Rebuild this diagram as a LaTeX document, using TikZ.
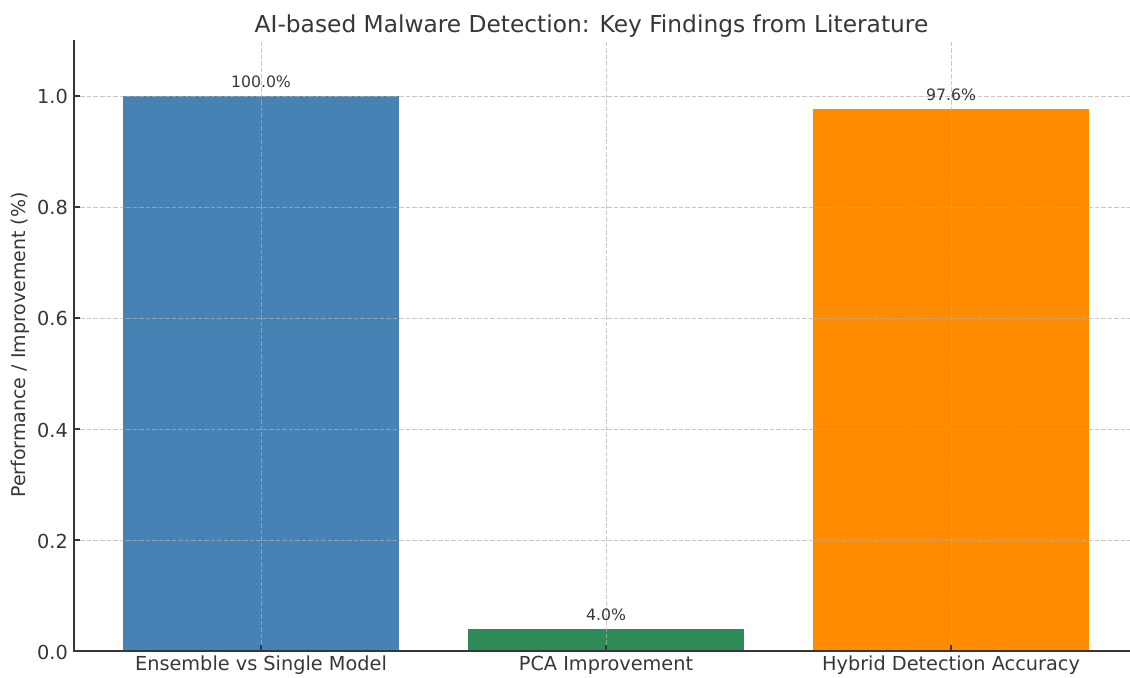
\documentclass[tikz,border=0pt]{standalone}
\usepackage{fontspec}
\setmainfont{DejaVu Sans}
\usepackage{xcolor}

\definecolor{barblue}{RGB}{70,130,180}
\definecolor{bargreen}{RGB}{46,139,87}
\definecolor{barorange}{RGB}{255,140,0}
\definecolor{inkgray}{RGB}{55,55,55}
\definecolor{gridgray}{RGB}{176,176,176}

\tikzset{
  gridline/.style={gridgray, draw opacity=0.7, line width=0.9pt, dash pattern=on 4.5pt off 2pt},
  spine/.style={inkgray, line width=1.3pt},
  tickmark/.style={inkgray, line width=1.1pt},
  ticklabel/.style={inkgray, inner sep=0pt, font=\fontsize{19.3}{22}\selectfont},
  valuelabel/.style={inkgray, inner sep=0pt, anchor=base, font=\fontsize{15.7}{18}\selectfont},
  axistitle/.style={inkgray, inner sep=0pt, font=\fontsize{23.3}{27}\selectfont}
}

\begin{document}
\begin{tikzpicture}[x=345pt, y=555pt]
        \useasboundingbox (-0.7565, -0.04685) rectangle (2.5188, 1.17297);

        % bars
        \fill[barblue] (-0.4, 0) rectangle (0.4, 1.0);
        \fill[bargreen] (0.6, 0) rectangle (1.4, 0.04);
        \fill[barorange] (1.6, 0) rectangle (2.4, 0.976);

        % grid
        \draw[gridline] (-0.542, 0.2) -- (2.5188, 0.2);
        \draw[gridline] (-0.542, 0.4) -- (2.5188, 0.4);
        \draw[gridline] (-0.542, 0.6) -- (2.5188, 0.6);
        \draw[gridline] (-0.542, 0.8) -- (2.5188, 0.8);
        \draw[gridline] (-0.542, 1.0) -- (2.5188, 1.0);
        \draw[gridline] (0, 0) -- (0, 1.1);
        \draw[gridline] (1, 0) -- (1, 1.1);
        \draw[gridline] (2, 0) -- (2, 1.1);

        % axes
        \coordinate (top) at (-0.542, 1.1);
        \coordinate (corner) at (-0.542, 0);
        \coordinate (right) at (2.5188, 0);
        \draw[spine] (top) -- (corner) -- (right);

        % ticks
        \foreach \v in {0.0, 0.2, 0.4, 0.6, 0.8, 1.0}
          {\draw[tickmark] (-0.542, \v) -- ++(5.6pt, 0);
           \node[ticklabel, anchor=base east] (ytick\v) at (-0.5594, \v-0.0144) {\v};}
        \foreach \c in {0, 1, 2}
          \draw[tickmark] (\c, 0) -- ++(0, 5.6pt);

        \node[ticklabel, anchor=base] (xensemble) at (0, -0.036) {Ensemble vs Single Model};
        \node[ticklabel, anchor=base] (xpca) at (1, -0.036) {PCA Improvement};
        \node[ticklabel, anchor=base] (xhybrid) at (2, -0.036) {Hybrid Detection Accuracy};

        % value labels
        \node[valuelabel] (vensemble) at (0, 1.0153) {100.0\%};
        \node[valuelabel] (vpca) at (1, 0.0553) {4.0\%};
        \node[valuelabel] (vhybrid) at (2, 0.9913) {97.6\%};

        \node[ticklabel, rotate=90, font=\fontsize{19}{22}\selectfont] (ylabel) at (-0.6986, 0.5514) {Performance / Improvement (\%)};
        \node[axistitle, anchor=base] (title) at (0.958, 1.1141) {AI-based Malware Detection: Key Findings from Literature};
\end{tikzpicture}
\end{document}
